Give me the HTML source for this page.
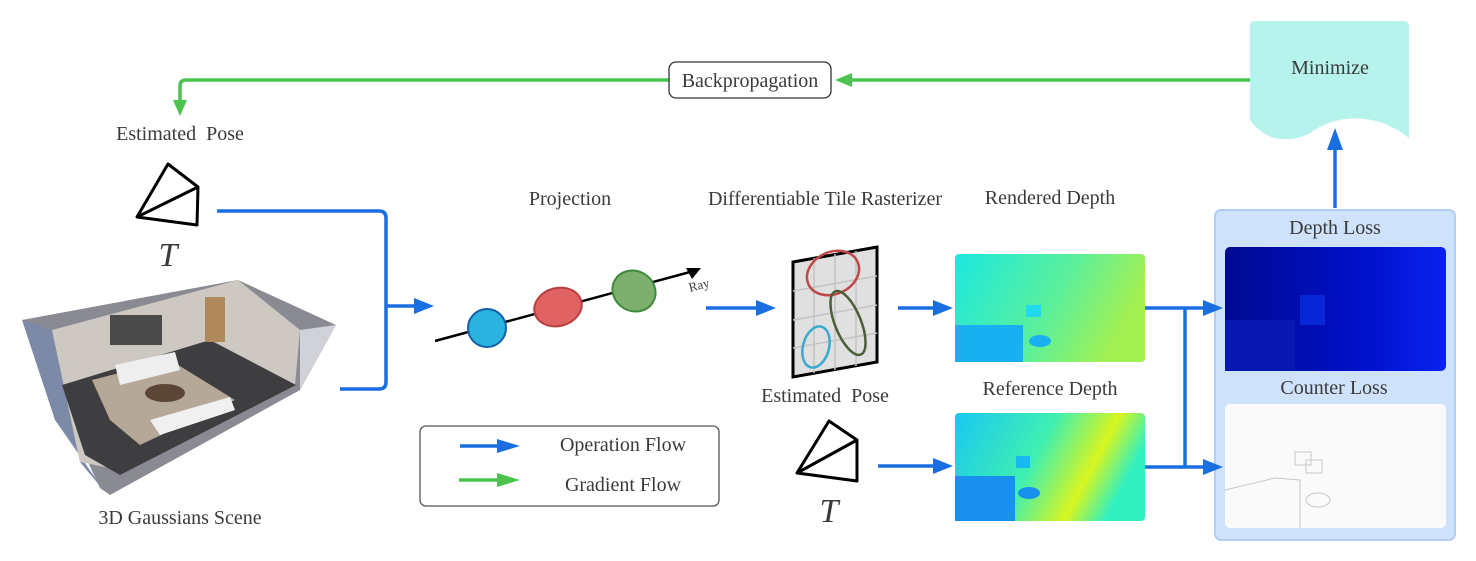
<!DOCTYPE html>
<html><head><meta charset="utf-8"><style>
html,body{margin:0;padding:0;background:#fff;}
svg{display:block;}
text{font-family:"Liberation Serif",serif;fill:#3a3a3a;white-space:pre;}
</style></head><body>
<svg width="1476" height="561" viewBox="0 0 1476 561" xmlns="http://www.w3.org/2000/svg">
<defs>
<linearGradient id="rd" x1="0" y1="0" x2="1" y2="0.3"><stop offset="0" stop-color="#1ae8e0"/><stop offset="0.6" stop-color="#5cf09a"/><stop offset="1" stop-color="#a4f050"/></linearGradient>
<linearGradient id="rf" x1="0" y1="0" x2="1" y2="0.3"><stop offset="0" stop-color="#18c8f0"/><stop offset="0.5" stop-color="#40f0b0"/><stop offset="0.8" stop-color="#d8f520"/><stop offset="1" stop-color="#30f0c0"/></linearGradient>
<linearGradient id="dl" x1="0" y1="0" x2="1" y2="0"><stop offset="0" stop-color="#000a90"/><stop offset="0.6" stop-color="#0010c8"/><stop offset="1" stop-color="#0a22f0"/></linearGradient>
</defs>

<!-- minimize -->
<path d="M1255,21 H1404 Q1409,21 1409,26 V138 Q1380,115 1345,119 Q1325,122 1310,133 Q1295,142 1275,138 Q1260,134 1250,120 V26 Q1250,21 1255,21 Z" fill="#b6f3ec"/>
<text x="1330" y="74" font-size="20" text-anchor="middle">Minimize</text>
<line x1="1335" y1="208" x2="1335" y2="148" stroke="#1a6fe0" stroke-width="3.5"/>
<path d="M1335,128 L1327,150 L1343,150 z" fill="#1a6fe0"/>

<!-- backprop -->
<g stroke="#4cc34f" stroke-width="3.5" fill="none">
<line x1="1250" y1="80" x2="845" y2="80"/>
<path d="M669,80 H186 Q180,80 180,86 V105"/>
</g>
<path d="M835,80 L852,73 L852,87 z" fill="#4cc34f"/>
<path d="M180,116 L173,100 L187,100 z" fill="#4cc34f"/>
<rect x="669" y="62" width="162" height="36" rx="7" fill="#fff" stroke="#333" stroke-width="1.3"/>
<text x="750" y="87" font-size="20" text-anchor="middle">Backpropagation</text>

<!-- estimated pose left -->
<text x="180" y="140" font-size="20" text-anchor="middle">Estimated&#160;&#160;Pose</text>
<path d="M168,164 L198,187 L197,225 L137,217 Z M137,217 L198,187" fill="none" stroke="#000" stroke-width="3" stroke-linejoin="round"/>
<text x="168" y="266" font-size="34" font-style="italic" text-anchor="middle">T</text>

<!-- room -->
<g>
<polygon points="22,320 238,280 336,325 300,390 110,495 100,488" fill="#8a8a92"/>
<polygon points="22,320 52,330 80,462 105,492 55,420" fill="#7c8aa8"/>
<polygon points="52,330 238,280 300,330 295,385 120,470 80,462" fill="#cdc8c2"/>
<polygon points="62,385 210,340 296,385 120,475 85,455" fill="#3e3e40"/>
<polygon points="92,380 170,360 235,400 140,445 110,420" fill="#b5a898"/>
<rect x="110" y="315" width="52" height="30" fill="#4a4a4a"/>
<rect x="205" y="297" width="20" height="45" fill="#b0895a"/>
<ellipse cx="165" cy="393" rx="20" ry="9" fill="#5a4536"/>
<polygon points="115,365 175,352 180,370 120,385" fill="#eee"/>
<polygon points="150,420 230,397 235,410 160,435" fill="#f0f0f0"/>
<polygon points="300,330 336,325 300,390" fill="#d0d2d8"/>
</g>
<text x="180" y="524" font-size="20" text-anchor="middle">3D Gaussians Scene</text>

<!-- blue bracket -->
<g stroke="#1a6fe0" stroke-width="3.5" fill="none">
<path d="M217,211 H379 Q386,211 386,218 V382 Q386,389 379,389 H340"/>
<line x1="386" y1="306" x2="418" y2="306"/>
</g>
<path d="M434,306 L414,298 L414,314 z" fill="#1a6fe0"/>

<!-- projection -->
<text x="570" y="205" font-size="20" text-anchor="middle">Projection</text>
<line x1="435" y1="341" x2="690" y2="272" stroke="#000" stroke-width="2.5"/>
<path d="M701,268 L686,268 L692,279 z" fill="#000"/>
<text x="690" y="292" font-size="13" transform="rotate(-15 690 292)" fill="#111">Ray</text>
<circle cx="487" cy="328" r="19" fill="#2ab3de" stroke="#1260a8" stroke-width="2"/>
<ellipse cx="558" cy="307" rx="24" ry="19" transform="rotate(-15 558 307)" fill="#e06262" stroke="#b84040" stroke-width="2"/>
<ellipse cx="634" cy="291" rx="22" ry="20" transform="rotate(30 634 291)" fill="#7db06e" stroke="#3c8a3a" stroke-width="2"/>

<line x1="706" y1="308" x2="762" y2="308" stroke="#1a6fe0" stroke-width="3.5"/>
<path d="M776,308 L756,300 L756,316 z" fill="#1a6fe0"/>

<!-- rasterizer -->
<text x="825" y="205" font-size="20" text-anchor="middle">Differentiable Tile Rasterizer</text>
<g>
<polygon points="793,262 877,247 877,362 793,377" fill="#e0e0e0" stroke="#000" stroke-width="3"/>
<g stroke="#c4c4c4" stroke-width="1.5">
<line x1="814" y1="258" x2="814" y2="373"/><line x1="835" y1="254" x2="835" y2="370"/><line x1="856" y1="251" x2="856" y2="366"/>
<line x1="793" y1="291" x2="877" y2="276"/><line x1="793" y1="320" x2="877" y2="305"/><line x1="793" y1="348" x2="877" y2="333"/>
</g>
<ellipse cx="833" cy="273" rx="27" ry="21" transform="rotate(-25 833 273)" fill="none" stroke="#c04848" stroke-width="2.5"/>
<ellipse cx="848" cy="323" rx="13" ry="34" transform="rotate(-22 848 323)" fill="none" stroke="#4a5e38" stroke-width="2.5"/>
<ellipse cx="816" cy="347" rx="13" ry="21" transform="rotate(15 816 347)" fill="none" stroke="#3aaad0" stroke-width="2.5"/>
</g>

<line x1="898" y1="308" x2="938" y2="308" stroke="#1a6fe0" stroke-width="3.5"/>
<path d="M953,308 L933,300 L933,316 z" fill="#1a6fe0"/>

<!-- depths -->
<text x="1050" y="204" font-size="20" text-anchor="middle">Rendered Depth</text>
<g>
<rect x="955" y="254" width="190" height="108" rx="4" fill="url(#rd)"/>
<rect x="955" y="325" width="68" height="37" fill="#18b0f0"/>
<rect x="1026" y="305" width="15" height="12" fill="#20d8f0"/>
<ellipse cx="1040" cy="341" rx="11" ry="6" fill="#18b0f0"/>
</g>
<text x="1050" y="395" font-size="20" text-anchor="middle">Reference Depth</text>
<g>
<rect x="955" y="413" width="190" height="108" rx="4" fill="url(#rf)"/>
<rect x="955" y="476" width="60" height="45" fill="#1890f0"/>
<rect x="1016" y="456" width="14" height="12" fill="#18b8f0"/>
<ellipse cx="1029" cy="493" rx="11" ry="6" fill="#1890f0"/>
</g>
<text x="825" y="402" font-size="20" text-anchor="middle">Estimated&#160;&#160;Pose</text>
<path d="M829,421 L857,440 L857,481 L797,473 Z M797,473 L857,440" fill="none" stroke="#000" stroke-width="3" stroke-linejoin="round"/>
<text x="829" y="522" font-size="34" font-style="italic" text-anchor="middle">T</text>
<line x1="878" y1="466" x2="938" y2="466" stroke="#1a6fe0" stroke-width="3.5"/>
<path d="M953,466 L933,458 L933,474 z" fill="#1a6fe0"/>

<!-- connectors to loss -->
<g stroke="#1a6fe0" stroke-width="3.5" fill="none">
<line x1="1145" y1="308" x2="1205" y2="308"/>
<line x1="1145" y1="467" x2="1205" y2="467"/>
<line x1="1185" y1="308" x2="1185" y2="467"/>
</g>

<!-- loss panel -->
<rect x="1215" y="210" width="240" height="330" rx="6" fill="#cfe2fb" stroke="#b2cdf4" stroke-width="2"/>
<path d="M1223,308 L1203,300 L1203,316 z" fill="#1a6fe0"/>
<path d="M1223,467 L1203,459 L1203,475 z" fill="#1a6fe0"/>
<text x="1335" y="234" font-size="20" text-anchor="middle">Depth Loss</text>
<g>
<rect x="1225" y="247" width="221" height="124" rx="5" fill="url(#dl)"/>
<rect x="1225" y="320" width="70" height="51" fill="#0818b0"/>
<rect x="1300" y="295" width="25" height="30" fill="#0828d8"/>
</g>
<text x="1334" y="394" font-size="20" text-anchor="middle">Counter Loss</text>
<g>
<rect x="1225" y="404" width="221" height="124" rx="5" fill="#fafafa"/>
<g fill="none" stroke="#c8c8c8" stroke-width="1">
<path d="M1225,490 L1275,478 L1300,480 L1300,528"/>
<rect x="1295" y="452" width="16" height="13"/>
<rect x="1306" y="460" width="16" height="13"/>
<ellipse cx="1318" cy="500" rx="12" ry="7"/>
</g>
</g>

<!-- legend -->
<rect x="420" y="426" width="299" height="80" rx="6" fill="#fff" stroke="#555" stroke-width="1.3"/>
<line x1="460" y1="446" x2="500" y2="446" stroke="#1a6fe0" stroke-width="3.5"/>
<path d="M520,446 L497,439 L497,453 z" fill="#1a6fe0"/>
<text x="623" y="451" font-size="20" text-anchor="middle">Operation Flow</text>
<line x1="459" y1="480" x2="500" y2="480" stroke="#4cc34f" stroke-width="3.5"/>
<path d="M520,480 L497,473 L497,487 z" fill="#4cc34f"/>
<text x="623" y="491" font-size="20" text-anchor="middle">Gradient Flow</text>
</svg>
</body></html>
